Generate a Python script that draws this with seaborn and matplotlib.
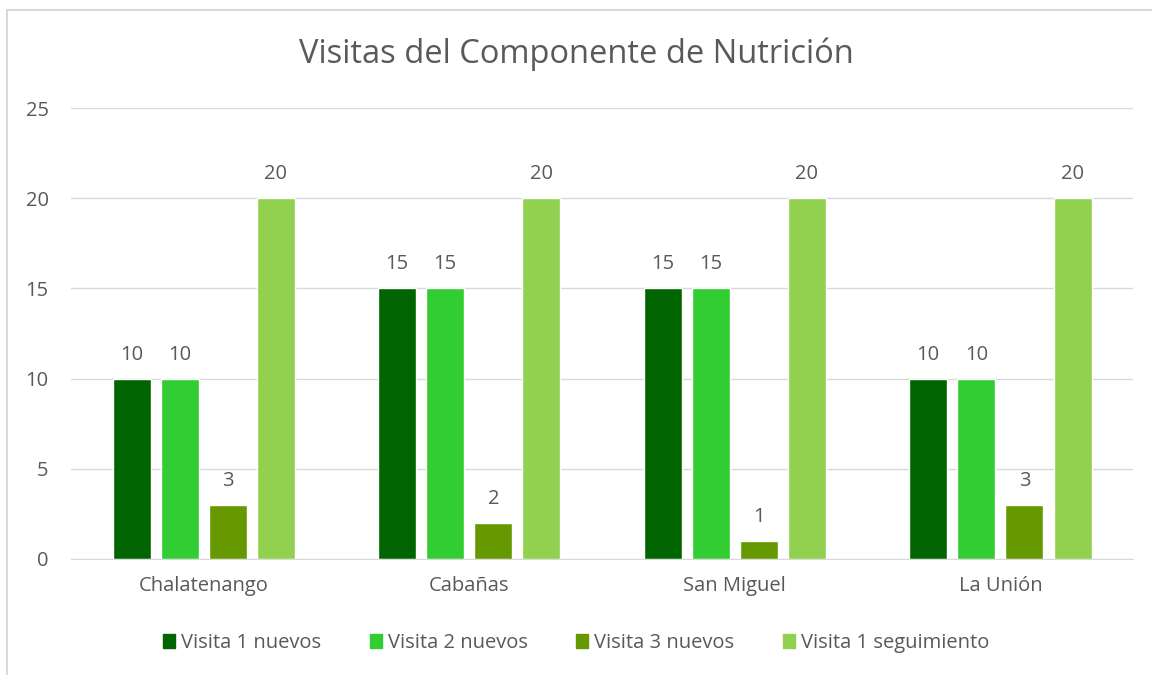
import pandas as pd
import matplotlib.pyplot as plt
import matplotlib.patches as mpatches
import seaborn as sns

departamentos = ["Chalatenango", "Cabañas", "San Miguel", "La Unión"]
series = ["Visita 1 nuevos", "Visita 2 nuevos", "Visita 3 nuevos", "Visita 1 seguimiento"]
visita1_nuevos = [10, 15, 15, 10]
visita2_nuevos = [10, 15, 15, 10]
visita3_nuevos = [3, 2, 1, 3]
visita1_seguimiento = [20, 20, 20, 20]
colores = ["#006400", "#32CD32", "#669900", "#92D050"]

df = pd.DataFrame({
    "Departamento": departamentos * 4,
    "Serie": [s for s in series for _ in departamentos],
    "Visitas": visita1_nuevos + visita2_nuevos + visita3_nuevos + visita1_seguimiento,
})

sns.set_style("white")
plt.rcParams["font.family"] = ["Open Sans", "DejaVu Sans"]
gris = "#595959"
fs = 14.5

fig = plt.figure(figsize=(11.52, 6.75), dpi=100)
ax = fig.add_axes([0.0616, 0.172, 0.922, 0.668])
sns.barplot(data=df, x="Departamento", y="Visitas", hue="Serie", hue_order=series,
            palette=colores, width=0.725, gap=0.21, saturation=1, ax=ax, legend=False)

for cont in ax.containers:
    ax.bar_label(cont, padding=10, fontsize=fs, color=gris)

ax.set_ylim(0, 25)
ax.set_yticks(range(0, 26, 5))
ax.yaxis.grid(True, color="#d9d9d9", linewidth=1)
ax.set_axisbelow(True)
for s in ["top", "right", "left"]:
    ax.spines[s].set_visible(False)
ax.spines["bottom"].set_color("#d9d9d9")
ax.set_xlabel("")
ax.set_ylabel("")
ax.tick_params(axis="both", length=0, labelsize=fs, labelcolor=gris)
ax.tick_params(axis="y", pad=16)
ax.tick_params(axis="x", pad=12)

fig.suptitle("Visitas del Componente de Nutrición", y=0.945, fontsize=23.5, color=gris)

handles = [mpatches.Patch(color=c, label=s) for c, s in zip(colores, series)]
fig.legend(handles=handles, loc="center", bbox_to_anchor=(0.5, 0.047), ncol=4, frameon=False,
           fontsize=fs, labelcolor=gris, handlelength=0.6, handleheight=0.7,
           handletextpad=0.3, columnspacing=2.4)

fig.patches.append(mpatches.Rectangle((0.006, -0.01), 1.2, 0.995, transform=fig.transFigure,
                                      fill=False, edgecolor="#d9d9d9", linewidth=1.5))

fig.savefig("out.png", dpi=100)
